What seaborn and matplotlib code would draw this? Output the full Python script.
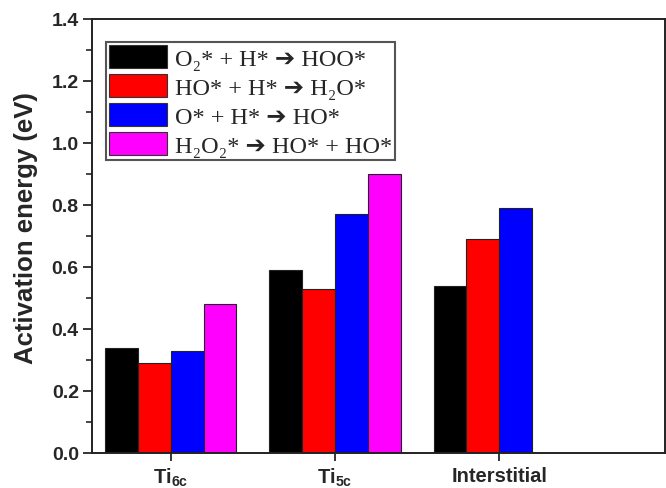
import numpy as np
import pandas as pd
import matplotlib
matplotlib.use("Agg")
import matplotlib.pyplot as plt
import seaborn as sns
from matplotlib.ticker import MultipleLocator
from matplotlib.patches import Patch

sites = ["Ti6c", "Ti5c", "Interstitial"]
site_labels = [r"Ti$\mathregular{_{6c}}$", r"Ti$\mathregular{_{5c}}$", "Interstitial"]
reactions = ["O2+H", "HO+H", "O+H", "H2O2"]
reaction_labels = [
    "O₂* + H* ➔ HOO*",
    "HO* + H* ➔ H₂O*",
    "O* + H* ➔ HO*",
    "H₂O₂* ➔ HO* + HO*",
]
o2_h = [0.34, 0.59, 0.54]
ho_h = [0.29, 0.53, 0.69]
o_h = [0.33, 0.77, 0.79]
h2o2 = [0.48, 0.90, np.nan]
colors = ["#000000", "#ff0000", "#0000ff", "#ff00ff"]

rows = []
for r, vals in zip(reactions, [o2_h, ho_h, o_h, h2o2]):
    for s, v in zip(sites, vals):
        rows.append({"site": s, "reaction": r, "energy": v})
df = pd.DataFrame(rows)

sns.set_style("ticks")
fig = plt.figure(figsize=(6.66, 4.89), dpi=100)
ax = fig.add_axes([92/666, 1-454/489, (665-92)/666, (454-20)/489])

sns.barplot(data=df, x="site", y="energy", hue="reaction", order=sites,
            hue_order=reactions, palette=colors, width=0.8, gap=0,
            edgecolor="#222222", linewidth=0.8, saturation=1, ax=ax,
            legend=False, errorbar=None)

ax.set_xlim(-0.48, 3.01)
ax.set_ylim(0, 1.4)
ax.yaxis.set_major_locator(MultipleLocator(0.2))
ax.yaxis.set_minor_locator(MultipleLocator(0.1))
ax.set_yticklabels([f"{v:.1f}" for v in ax.get_yticks()])
ax.set_xticks(range(len(sites)))
ax.set_xticklabels(site_labels)

for sp in ax.spines.values():
    sp.set_visible(True)
    sp.set_linewidth(1.4)
    sp.set_color("#222222")

ax.tick_params(axis="y", which="major", length=6.5, width=1.3, labelsize=14, pad=3)
ax.tick_params(axis="y", which="minor", length=4, width=1.2)
ax.tick_params(axis="x", which="major", length=6, width=1.3, labelsize=14.5, pad=3)
ax.tick_params(axis="both", which="both", direction="out", right=False, top=False)
for lab in ax.get_yticklabels() + ax.get_xticklabels():
    lab.set_family("Liberation Sans")
    lab.set_fontweight("bold")

ax.set_xlabel("")
ax.set_ylabel("Activation energy (eV)", fontsize=18.5, fontweight="bold",
              family="Liberation Sans")
ax.yaxis.set_label_coords(-0.095, 0.52)

handles = [Patch(facecolor=c, edgecolor="#333333", linewidth=0.8) for c in colors]
leg = ax.legend(handles, reaction_labels, loc="upper left",
                bbox_to_anchor=(14/573, (454-43)/434), borderaxespad=0,
                prop={"family": ["Liberation Serif", "DejaVu Sans"], "size": 17.5},
                handlelength=2.4, handleheight=1.07, labelspacing=0.18,
                handletextpad=0.3, borderpad=0.12, fancybox=False,
                framealpha=1, edgecolor="#555555")
leg.get_frame().set_linewidth(1.5)

fig.savefig("out.png", dpi=100)
